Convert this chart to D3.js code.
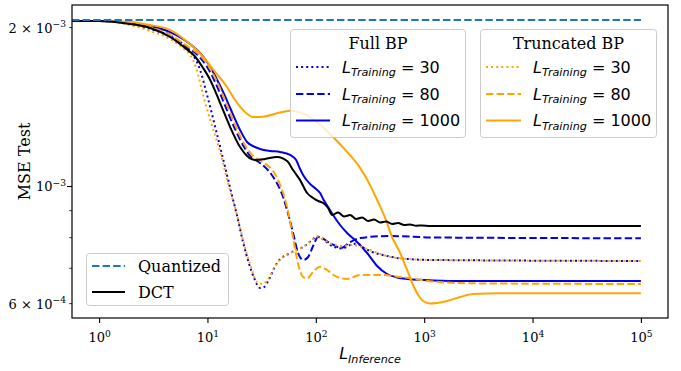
<!DOCTYPE html>
<html><head><meta charset="utf-8">
<script src="https://cdn.jsdelivr.net/npm/d3@7/dist/d3.min.js"></script>
<style>body{margin:0;background:#fff}svg{display:block}</style>
</head><body><svg id="c" width="681" height="371"></svg>
<script>
// ---------- axis settings ----------
const xLimits = [Math.pow(10, -0.25), Math.pow(10, 5.25)];
const yLimits = [Math.pow(10, -3.25), Math.pow(10, -2.6572)];
const xTickValues = [1, 10, 100, 1000, 10000, 100000];
const xTickExponents = ["0", "1", "2", "3", "4", "5"];
const yLabelValues = [2e-3, 1e-3, 6e-4];
const yLabelMantissa = ["2", "", "6"];
const yLabelExponent = ["\u22123", "\u22123", "\u22124"];
const yMinorValues = [6e-4, 7e-4, 8e-4, 9e-4, 2e-3];

// ---------- data ----------
const quantL = [1, 100000];
const quantMSE = [2.063e-3, 2.063e-3];

const dctL = [1, 1.93, 2.96, 4.52, 6.22, 7.61, 9.12, 10.6, 13.1, 16.2, 20, 23.2, 28.1, 34, 43.9, 54.3, 61.7, 71.6, 83.1, 94.4, 105, 116.8, 129.8, 141.3, 160.6, 182.4, 207.3, 235.3, 267.4, 303.8, 345, 392, 445.3, 505.8, 574.5, 652.7, 741.3, 842.4, 956.8, 1134, 1403, 100000];
const dctMSE = [2.054e-3, 2.027e-3, 1.992e-3, 1.915e-3, 1.825e-3, 1.763e-3, 1.673e-3, 1.588e-3, 1.436e-3, 1.293e-3, 1.185e-3, 1.140e-3, 1.120e-3, 1.125e-3, 1.135e-3, 1.115e-3, 1.072e-3, 1.026e-3, 0.9699e-3, 0.9490e-3, 0.9367e-3, 0.9286e-3, 0.9085e-3, 0.8813e-3, 0.8909e-3, 0.8755e-3, 0.8813e-3, 0.8660e-3, 0.8717e-3, 0.8585e-3, 0.8641e-3, 0.8529e-3, 0.8566e-3, 0.8473e-3, 0.8510e-3, 0.8436e-3, 0.8454e-3, 0.8411e-3, 0.8420e-3, 0.8400e-3, 0.8400e-3, 0.8400e-3];

const full30L = [1, 1.93, 2.96, 4.52, 6.22, 7.37, 8.55, 9.92, 12.3, 14.24, 16.2, 18.77, 21.3, 24.23, 26.94, 30.6, 33.32, 36.28, 43.9, 57.9, 76.3, 90.5, 102.7, 119.2, 135.5, 174.8, 207.3, 240.4, 279, 330.7, 435.9, 600, 1209, 100000];
const full30MSE = [2.054e-3, 2.027e-3, 1.983e-3, 1.923e-3, 1.841e-3, 1.770e-3, 1.659e-3, 1.487e-3, 1.249e-3, 1.106e-3, 0.9913e-3, 0.8774e-3, 0.7833e-3, 0.7117e-3, 0.6696e-3, 0.6409e-3, 0.6437e-3, 0.6608e-3, 0.7148e-3, 0.7466e-3, 0.7664e-3, 0.7868e-3, 0.8024e-3, 0.7902e-3, 0.7731e-3, 0.7614e-3, 0.7731e-3, 0.7781e-3, 0.7631e-3, 0.7499e-3, 0.7385e-3, 0.7295e-3, 0.7242e-3, 0.7211e-3];

const full80L = [1, 1.93, 2.96, 4.52, 6.22, 7.94, 9.93, 11.52, 14.24, 17.62, 21.78, 24.7, 30.6, 40.4, 49.9, 54.3, 61.7, 68.6, 76.3, 84.9, 94.4, 105, 135.5, 171, 207.3, 256.3, 484.7, 1209, 100000];
const full80MSE = [2.054e-3, 2.036e-3, 2.000e-3, 1.932e-3, 1.841e-3, 1.778e-3, 1.681e-3, 1.588e-3, 1.436e-3, 1.293e-3, 1.185e-3, 1.140e-3, 1.106e-3, 1.040e-3, 0.9532e-3, 0.9006e-3, 0.8147e-3, 0.7466e-3, 0.7242e-3, 0.7337e-3, 0.7697e-3, 0.8006e-3, 0.7798e-3, 0.7631e-3, 0.7833e-3, 0.7971e-3, 0.8041e-3, 0.7989e-3, 0.7962e-3];

const full1000L = [1, 1.93, 2.96, 4.52, 6.92, 8.55, 9.92, 11.03, 12.3, 14.5, 16.2, 20, 23.2, 27.5, 30.6, 37.9, 46.8, 57.9, 65.8, 71.6, 76.3, 88.6, 100.6, 109.5, 116.8, 129.8, 144.3, 167.5, 194.4, 240.4, 297.3, 367.8, 454.9, 562.6, 700, 1000, 2000, 100000];
const full1000MSE = [2.054e-3, 2.036e-3, 2.010e-3, 1.957e-3, 1.857e-3, 1.786e-3, 1.717e-3, 1.659e-3, 1.588e-3, 1.481e-3, 1.405e-3, 1.277e-3, 1.2115e-3, 1.1853e-3, 1.175e-3, 1.165e-3, 1.160e-3, 1.145e-3, 1.120e-3, 1.077e-3, 1.049e-3, 1.0087e-3, 0.987e-3, 0.9699e-3, 0.9449e-3, 0.9125e-3, 0.8813e-3, 0.8436e-3, 0.8147e-3, 0.7833e-3, 0.7466e-3, 0.7056e-3, 0.6813e-3, 0.6710e-3, 0.6667e-3, 0.6637e-3, 0.6608e-3, 0.6608e-3];

const trunc30L = [1, 1.93, 2.96, 4.52, 6.22, 6.92, 7.86, 9.12, 10.6, 13.1, 15.5, 18.66, 21.3, 24.7, 28.7, 32.6, 36.3, 43.9, 57.9, 76.3, 90.5, 102.7, 119.2, 141.3, 178.6, 216.2, 256.3, 316.9, 435.9, 600, 1209, 100000];
const trunc30MSE = [2.054e-3, 2.018e-3, 1.966e-3, 1.898e-3, 1.810e-3, 1.770e-3, 1.673e-3, 1.487e-3, 1.334e-3, 1.160e-3, 1.013e-3, 0.8850e-3, 0.7902e-3, 0.7117e-3, 0.6579e-3, 0.6522e-3, 0.6667e-3, 0.7148e-3, 0.7466e-3, 0.7664e-3, 0.7868e-3, 0.8024e-3, 0.7902e-3, 0.7764e-3, 0.7697e-3, 0.7731e-3, 0.7681e-3, 0.7564e-3, 0.7385e-3, 0.7295e-3, 0.7242e-3, 0.7211e-3];

const trunc80L = [1, 1.93, 2.96, 4.52, 6.49, 8.28, 10.35, 12.02, 14.86, 18.38, 22.73, 26.4, 32.6, 43.9, 54.3, 61.7, 68.6, 76.3, 83.1, 94.4, 109.5, 127.1, 147.5, 194.4, 256.3, 392, 600, 1209, 2489, 100000];
const trunc80MSE = [2.054e-3, 2.036e-3, 2.000e-3, 1.932e-3, 1.841e-3, 1.778e-3, 1.681e-3, 1.588e-3, 1.436e-3, 1.293e-3, 1.185e-3, 1.140e-3, 1.110e-3, 1.0355e-3, 0.9125e-3, 0.7971e-3, 0.7117e-3, 0.6725e-3, 0.6681e-3, 0.6875e-3, 0.7035e-3, 0.6933e-3, 0.6769e-3, 0.6667e-3, 0.6784e-3, 0.6784e-3, 0.6725e-3, 0.6594e-3, 0.6542e-3, 0.6522e-3];

const trunc1000L = [1, 1.93, 2.96, 4.52, 6.22, 9.12, 11.77, 15.09, 17.99, 21.3, 26.4, 32.6, 43.9, 57.9, 76.3, 105, 144.3, 194.4, 256.3, 316.9, 367.8, 435.9, 505.8, 600, 695.8, 790.2, 879, 977.2, 1134, 1316, 1628, 2145, 2829, 5020, 100000];
const trunc1000MSE = [2.054e-3, 2.045e-3, 2.018e-3, 1.975e-3, 1.890e-3, 1.758e-3, 1.644e-3, 1.542e-3, 1.455e-3, 1.393e-3, 1.351e-3, 1.353e-3, 1.373e-3, 1.389e-3, 1.373e-3, 1.316e-3, 1.238e-3, 1.160e-3, 1.082e-3, 1.004e-3, 0.9408e-3, 0.8698e-3, 0.8006e-3, 0.7466e-3, 0.6933e-3, 0.6494e-3, 0.6216e-3, 0.6055e-3, 0.5990e-3, 0.6003e-3, 0.6055e-3, 0.6162e-3, 0.6244e-3, 0.6263e-3, 0.6263e-3];

const trainingLengths = ["30", "80", "1000"];

// ---------- drawing ----------
const svg = d3.select("#c");
const plot = {left: 72, right: 668, top: 5, bottom: 318};
const x = d3.scaleLog().domain(xLimits).range([plot.left, plot.right]);
const y = d3.scaleLog().domain(yLimits).range([plot.bottom, plot.top]);

const BLUE = "#0000ee", ORANGE = "#ffa500", QBLUE = "#1f77b4";
const DASH = "7.4,3.2", DOT = "2,3.1";
const serif = "'DejaVu Serif', 'Liberation Serif', serif";
const sans = "'DejaVu Sans', sans-serif";

svg.append("rect").attr("width", 681).attr("height", 371).attr("fill", "#fff");
svg.append("defs").append("clipPath").attr("id", "clip")
  .append("rect").attr("x", plot.left).attr("y", plot.top)
  .attr("width", plot.right - plot.left).attr("height", plot.bottom - plot.top);

const series = [
  {L: full30L, v: full30MSE, color: BLUE, dash: DOT},
  {L: full80L, v: full80MSE, color: BLUE, dash: DASH},
  {L: full1000L, v: full1000MSE, color: BLUE, dash: null},
  {L: trunc30L, v: trunc30MSE, color: ORANGE, dash: DOT},
  {L: trunc80L, v: trunc80MSE, color: ORANGE, dash: DASH},
  {L: trunc1000L, v: trunc1000MSE, color: ORANGE, dash: null},
  {L: dctL, v: dctMSE, color: "#000", dash: null},
  {L: quantL, v: quantMSE, color: QBLUE, dash: "7.4,3.2"}
];

const line = d3.line().x(d => x(d[0])).y(d => y(d[1])).curve(d3.curveMonotoneX);
const gLines = svg.append("g").attr("clip-path", "url(#clip)");
series.forEach(s => {
  // x = 0 is clipped to the left edge on a log axis: start the line at the left limit
  const pts = [[xLimits[0], s.v[0]]].concat(s.L.map((l, i) => [l, s.v[i]]));
  gLines.append("path").attr("d", line(pts)).attr("fill", "none")
    .attr("stroke", s.color).attr("stroke-width", 2)
    .attr("stroke-dasharray", s.dash).attr("stroke-linejoin", "round");
});

// ---------- axes ----------
const gx = svg.append("g").attr("transform", `translate(0,${plot.bottom})`)
  .call(d3.axisBottom(x).tickValues(xTickValues).tickSize(5).tickFormat(""));
gx.select(".domain").remove();
gx.selectAll(".tick line").attr("stroke", "#000").attr("stroke-width", 1.1);
gx.selectAll(".tick").each(function(d, i) {
  const t = d3.select(this).append("text").attr("y", 24).attr("fill", "#000")
    .attr("text-anchor", "middle").attr("font-family", serif).attr("font-size", 13);
  t.append("tspan").text("10");
  t.append("tspan").attr("font-size", 9.1).attr("dy", -5.5).text(xTickExponents[i]);
});

const gyMinor = svg.append("g").attr("transform", `translate(${plot.left},0)`)
  .call(d3.axisLeft(y).tickValues(yMinorValues).tickSize(2.8).tickFormat(""));
gyMinor.select(".domain").remove();
gyMinor.selectAll(".tick line").attr("stroke", "#000").attr("stroke-width", 0.8);

const gy = svg.append("g").attr("transform", `translate(${plot.left},0)`)
  .call(d3.axisLeft(y).tickValues(yLabelValues).tickSize(0).tickFormat(""));
gy.select(".domain").remove();
gy.selectAll(".tick line").attr("x2", d => d === 1e-3 ? -5 : 0)
  .attr("stroke", "#000").attr("stroke-width", 1.1);
gy.selectAll(".tick").each(function(d, i) {
  const t = d3.select(this).append("text").attr("x", -6).attr("y", 5).attr("fill", "#000")
    .attr("text-anchor", "end").attr("font-family", serif).attr("font-size", 13);
  const m = yLabelMantissa[i];
  t.append("tspan").text(m ? m + " \u00d7 10" : "10");
  t.append("tspan").attr("font-size", 9.1).attr("dy", -5.5).text(yLabelExponent[i]);
});

// spines
svg.append("rect").attr("x", plot.left).attr("y", plot.top)
  .attr("width", plot.right - plot.left).attr("height", plot.bottom - plot.top)
  .attr("fill", "none").attr("stroke", "#000").attr("stroke-width", 1.2);

// axis titles
const xl = svg.append("text").attr("x", (plot.left + plot.right) / 2).attr("y", 359)
  .attr("text-anchor", "middle").attr("font-family", sans).attr("font-size", 16);
xl.append("tspan").attr("font-style", "italic").text("L");
xl.append("tspan").attr("font-style", "italic").attr("font-size", 11.2).attr("dy", 3.5).text("Inference");

svg.append("text").attr("transform", `translate(30,${(plot.top + plot.bottom) / 2}) rotate(-90)`)
  .attr("text-anchor", "middle").attr("font-family", serif).attr("font-size", 16)
  .text("MSE Test");

// ---------- legends ----------
function legendFrame(x0, y0, w, h) {
  svg.append("rect").attr("x", x0).attr("y", y0).attr("width", w).attr("height", h)
    .attr("rx", 3).attr("fill", "#fff").attr("fill-opacity", 0.8)
    .attr("stroke", "#cccccc").attr("stroke-width", 1);
}
function legendLine(x0, x1, yy, color, dash) {
  svg.append("line").attr("x1", x0).attr("x2", x1).attr("y1", yy).attr("y2", yy)
    .attr("stroke", color).attr("stroke-width", 2).attr("stroke-dasharray", dash);
}
function mathEntry(x0, yy, n) {
  const t = svg.append("text").attr("x", x0).attr("y", yy + 5.5)
    .attr("font-family", sans).attr("font-size", 16).attr("fill", "#000");
  t.append("tspan").attr("font-style", "italic").text("L");
  t.append("tspan").attr("font-style", "italic").attr("font-size", 11.2).attr("dy", 3.5).text("Training");
  t.append("tspan").attr("dy", -3.5).text(" = " + n);
}
const dashes = [DOT, DASH, null];
const rowsY = [67, 94, 120.5];

// Full BP
legendFrame(290.5, 29.5, 175, 108);
svg.append("text").attr("x", 378).attr("y", 49).attr("text-anchor", "middle")
  .attr("font-family", serif).attr("font-size", 16).text("Full BP");
trainingLengths.forEach((n, i) => {
  legendLine(296, 330, rowsY[i], BLUE, dashes[i]);
  mathEntry(342, rowsY[i], n);
});

// Truncated BP
legendFrame(480.5, 29.5, 176, 108);
svg.append("text").attr("x", 568.5).attr("y", 49).attr("text-anchor", "middle")
  .attr("font-family", serif).attr("font-size", 16).text("Truncated BP");
trainingLengths.forEach((n, i) => {
  legendLine(486, 521, rowsY[i], ORANGE, dashes[i]);
  mathEntry(533, rowsY[i], n);
});

// Quantized / DCT
legendFrame(86.5, 253.5, 142, 52);
legendLine(92, 125, 266, QBLUE, "7.4,3.2");
svg.append("text").attr("x", 138).attr("y", 271.5).attr("font-family", serif)
  .attr("font-size", 16).text("Quantized");
legendLine(92, 125, 292, "#000", null);
svg.append("text").attr("x", 138).attr("y", 297.5).attr("font-family", serif)
  .attr("font-size", 16).text("DCT");
</script></body></html>
